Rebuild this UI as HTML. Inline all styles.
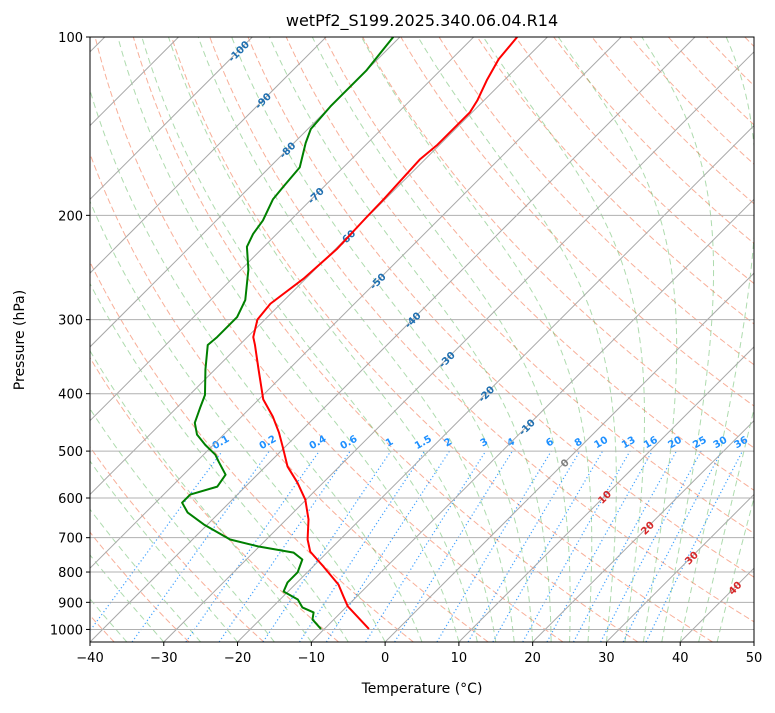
<!DOCTYPE html>
<html><head><meta charset="utf-8">
<style>
body{margin:0;background:#fff;}
svg text{font-family:"DejaVu Sans","Liberation Sans",sans-serif;}
</style></head>
<body>
<svg id="chart" width="775" height="708" viewBox="0 0 775 708" xmlns="http://www.w3.org/2000/svg">
<defs><clipPath id="clip"><rect x="90" y="37" width="664" height="605"/></clipPath></defs>
<rect width="775" height="708" fill="#fff"/>
<text x="422" y="26" text-anchor="middle" font-size="16">wetPf2_S199.2025.340.06.04.R14</text>
<g id="plot" clip-path="url(#clip)"></g>
<g id="axes"></g>
<text x="422" y="693" text-anchor="middle" font-size="14">Temperature (°C)</text>
<text transform="translate(24,340) rotate(-90)" text-anchor="middle" font-size="14">Pressure (hPa)</text>
</svg>
<script>
// ---- data ----
const tempP = [996,914,880,840,783,739,705,652,604,565,531,491,465,437,409,364,331,321,300,282,256,228,201,188,161,152,134,128,118,109,100];
const tempT = [-4.1,-9.9,-11.8,-14.1,-18.6,-22.4,-24.4,-27.0,-30.1,-33.5,-37.0,-40.4,-42.8,-45.8,-49.4,-54.1,-57.9,-59.2,-61.0,-61.4,-60.3,-59.8,-60.1,-60.2,-60.7,-60.3,-60.3,-60.9,-62.4,-63.6,-64.1];
const dewP = [996,962,936,918,890,863,833,801,762,742,724,705,665,635,611,592,574,548,521,507,488,469,448,421,402,364,331,321,297,278,247,226,215,204,188,179,166,151,143,131,114,100];
const dewT = [-10.6,-12.9,-13.7,-15.9,-17.6,-20.6,-21.3,-21.3,-22.4,-24.5,-30.2,-34.9,-40.5,-44.3,-46.4,-46.4,-43.8,-44.3,-47.0,-48.4,-51.1,-53.6,-55.5,-56.9,-57.9,-61.3,-64.3,-64.1,-64.1,-65.3,-69.0,-72.3,-73.2,-73.7,-75.2,-75.5,-75.9,-78.4,-79.6,-80.0,-80.0,-80.9];
const xTicks = [-40,-30,-20,-10,0,10,20,30,40,50];
const pTicks = [100,200,300,400,500,600,700,800,900,1000];
const isoLabelT = [-100,-90,-80,-70,-60,-50,-40,-30,-20,-10,0,10,20,30,40];
const isoLabelP = [105.6,128,155,185,218,258,300,350,400,455,523,597,673,756,850];
const mixW = [0.1,0.2,0.4,0.6,1,1.5,2,3,4,6,8,10,13,16,20,25,30,36];
const mixLabels = ["0.1","0.2","0.4","0.6","1","1.5","2","3","4","6","8","10","13","16","20","25","30","36"];

// ---- axes functions ----
const L=90,R=754,T0=37,B=642,PTOP=100,PBOT=1050,TMIN=-40,TMAX=50;
const kx=(R-L)/(TMAX-TMIN), ky=(B-T0)/Math.log10(PBOT/PTOP);
function yP(p){return T0+Math.log10(p/PTOP)*ky;}
function xT(t,p){const y=yP(p);return L+(t-TMIN)*kx+(B-y);}
const NS="http://www.w3.org/2000/svg";
const plot=document.getElementById('plot'), axes=document.getElementById('axes');
function el(tag,attrs,parent){const e=document.createElementNS(NS,tag);for(const k in attrs)e.setAttribute(k,attrs[k]);parent.appendChild(e);return e;}
function pathFrom(ps,ts){return ps.map((p,i)=>(i?'L':'M')+xT(ts[i],p).toFixed(2)+','+yP(p).toFixed(2)).join('');}
const plevels=[];for(let p=PBOT;p>=PTOP;p-=5)plevels.push(p);

// dry adiabats
for(let tc=-40;tc<=200;tc+=10){
  const th=tc+273.15;const ts=plevels.map(p=>th*Math.pow(p/1000,0.2857)-273.15);
  const e=el('path',{d:pathFrom(plevels,ts),fill:'none',stroke:'#f47a55','stroke-opacity':'0.6','stroke-width':'1','stroke-dasharray':'6,3'},plot);
  
  
}
// moist adiabats
function dTdp(T,p){const Tc=T-273.15;const es=6.112*Math.exp(17.67*Tc/(Tc+243.5));const rs=0.622*es/(p-es);
  return (287.04*T+2.501e6*rs)/(1005.7+2.501e6*2.501e6*rs*0.622/(287.04*T*T))/p;}
const moistStarts=[];for(let t=-40;t<=10;t+=5)moistStarts.push(t);for(let t=12.5;t<=45;t+=2.5)moistStarts.push(t);
moistStarts.forEach(t0=>{
  let T=t0+273.15;const ts=[T-273.15];
  for(let i=1;i<plevels.length;i++){const p=plevels[i-1],dp=plevels[i]-p;
    const k1=dTdp(T,p),k2=dTdp(T+k1*dp,p+dp);T+=0.5*(k1+k2)*dp;ts.push(T-273.15);}
  const e=el('path',{d:pathFrom(plevels,ts),fill:'none',stroke:'#4caf4c','stroke-opacity':'0.45','stroke-width':'1','stroke-dasharray':'6,4'},plot);
  
  
});
// mixing ratio lines
const mixP=[];for(let p=PBOT;p>=500;p-=10)mixP.push(p);
function tdFromW(w,p){const e=w*p/(622+w);const l=Math.log(e/6.112);return 243.5*l/(17.67-l);}
mixW.forEach((w,i)=>{
  const ts=mixP.map(p=>tdFromW(w,p));
  const e=el('path',{d:pathFrom(mixP,ts),fill:'none',stroke:'#1e90ff','stroke-opacity':'0.85','stroke-width':'1.2','stroke-dasharray':'1.2,2.5'},plot);
  
  
  const x=xT(tdFromW(w,500),500),y=yP(500)-6;
  const t=el('text',{x:x.toFixed(1),y:y.toFixed(1),'text-anchor':'middle','font-size':'10','font-weight':'bold',fill:'#1e90ff',transform:`rotate(-30 ${x.toFixed(1)} ${y.toFixed(1)})`},plot);
  t.textContent=mixLabels[i];
  
  
});
// isotherms
for(let t=-200;t<=50;t+=10){
  const e=el('line',{x1:xT(t,PBOT),y1:yP(PBOT),x2:xT(t,PTOP),y2:yP(PTOP),stroke:'#a8a8a8','stroke-width':'1'},plot);
  
  
}
// horizontal grid
pTicks.forEach(p=>{
  const e=el('line',{x1:L,x2:R,y1:yP(p),y2:yP(p),stroke:'#b0b0b0','stroke-width':'1'},plot);
  
  
});
// isotherm labels
isoLabelT.forEach((t,i)=>{
  const p=isoLabelP[i],x=xT(t,p),y=yP(p)+4;
  const col=t<0?'#1f6fb0':(t===0?'#808080':'#d62728');
  const e=el('text',{x:x.toFixed(1),y:y.toFixed(1),'text-anchor':'middle','font-size':'10','font-weight':'bold',fill:col,transform:`rotate(-45 ${x.toFixed(1)} ${(y-4).toFixed(1)})`},plot);
  e.textContent=String(t);
  
  
});
// profiles
const tl=el('path',{d:pathFrom(tempP,tempT),fill:'none',stroke:'#ff0000','stroke-width':'2','stroke-linejoin':'round','stroke-linecap':'round'},plot);


const dl=el('path',{d:pathFrom(dewP,dewT),fill:'none',stroke:'#008000','stroke-width':'2','stroke-linejoin':'round','stroke-linecap':'round'},plot);



// frame
const fr=el('rect',{x:L,y:T0,width:R-L,height:B-T0,fill:'none',stroke:'#000','stroke-width':'1'},axes);


xTicks.forEach(t=>{
  const x=L+(t-TMIN)*kx;
  const tk=el('line',{x1:x,x2:x,y1:B,y2:B+4,stroke:'#000'},axes);
  
  
  const tx=el('text',{x:x,y:B+20,'text-anchor':'middle','font-size':'13'},axes);
  tx.textContent=(t<0?'\u2212'+(-t):String(t));
  
  
});
pTicks.forEach(p=>{
  const y=yP(p);
  const tk=el('line',{x1:L-4,x2:L,y1:y,y2:y,stroke:'#000'},axes);
  
  
  const tx=el('text',{x:L-7,y:y+5,'text-anchor':'end','font-size':'13'},axes);
  tx.textContent=String(p);
  
  
});
</script>
</body></html>
